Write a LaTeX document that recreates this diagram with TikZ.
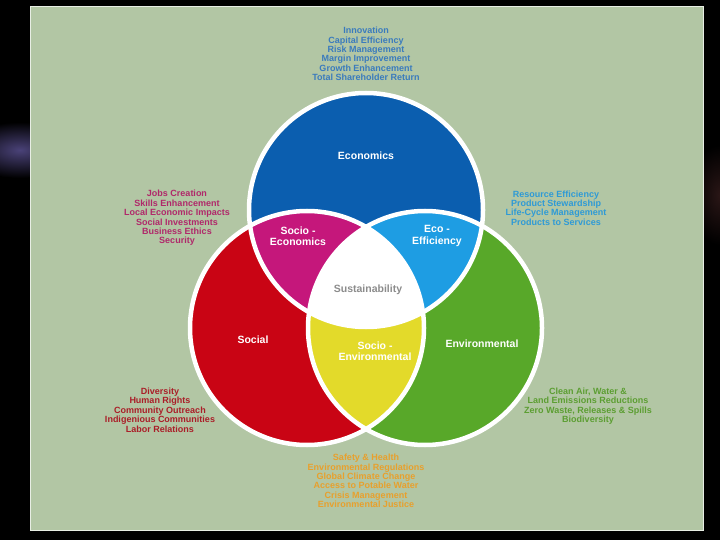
\documentclass[tikz,border=0pt]{standalone}
\usepackage{fontspec}
\setmainfont{Liberation Sans}
\definecolor{panelgreen}{HTML}{B2C6A4}
\definecolor{ecoblue}{HTML}{0B5EAF}
\definecolor{socred}{HTML}{C90414}
\definecolor{envgreen}{HTML}{58A829}
\definecolor{mixmagenta}{HTML}{C5177B}
\definecolor{mixsky}{HTML}{1E9DE3}
\definecolor{mixyellow}{HTML}{E3DA2A}
\definecolor{susgray}{HTML}{8C8C8C}
\definecolor{txtblue}{HTML}{3A7BBD}
\definecolor{txtmagenta}{HTML}{B0286A}
\definecolor{txtsky}{HTML}{2E9AD6}
\definecolor{txtred}{HTML}{AA1E28}
\definecolor{txtgreen}{HTML}{5C9E32}
\definecolor{txtorange}{HTML}{E8A02C}
\definecolor{glowleft}{HTML}{4A4278}
\definecolor{glowright}{HTML}{2A1616}
\usetikzlibrary{positioning}
\tikzset{
	listtext/.style={font=\fontsize{9}{9.4}\selectfont\bfseries, align=center, inner sep=0pt}
}
\tikzset{
	regiontext/.style={font=\fontsize{10.5}{11.5}\selectfont\bfseries, align=center, text=white, inner sep=0pt}
}
\tikzset{
	ring/.style={draw=white, line width=4.5}
}

\begin{document}
\begin{tikzpicture}[x=1pt,y=-1pt]

	\useasboundingbox (0,0) rectangle (720,540);
	\fill[black] (0,0) rectangle (720,540);

	% glow at the sides
	\begin{scope}
		\clip (0,0) rectangle (30,540);
		\shade[inner color=glowleft, outer color=black] (20,150) ellipse (60 and 28);
	\end{scope}
	\begin{scope}
		\clip (704,0) rectangle (720,540);
		\shade[inner color=glowright, outer color=black] (720,195) ellipse (30 and 50);
	\end{scope}

	\filldraw[fill=panelgreen, draw=white!70!panelgreen, line width=1] (30,7) rectangle (703,530);

	\coordinate (cEco) at (366,210);
	\coordinate (cSoc) at (307,328);
	\coordinate (cEnv) at (425,328);
	\def\rr{117}

	\fill[socred] (cSoc) circle[radius=\rr];
	\fill[envgreen] (cEnv) circle[radius=\rr];
	\begin{scope}
		\clip (cSoc) circle[radius=\rr];
		\fill[mixyellow] (cEnv) circle[radius=\rr];
	\end{scope}
	\fill[ecoblue] (cEco) circle[radius=\rr];
	\begin{scope}
		\clip (cEco) circle[radius=\rr];
		\fill[mixmagenta] (cSoc) circle[radius=\rr];
		\fill[mixsky] (cEnv) circle[radius=\rr];
		\clip (cSoc) circle[radius=\rr];
		\fill[white] (cEnv) circle[radius=\rr];
	\end{scope}

	\draw[ring] (cEco) circle[radius=\rr];
	\draw[ring] (cSoc) circle[radius=\rr];
	\draw[ring] (cEnv) circle[radius=\rr];

	\node[regiontext] (economics) at (366,156) {Economics};
	\node[regiontext] (social) at (253,340) {Social};
	\node[regiontext] (environmental) at (482,344) {Environmental};
	\node[regiontext] (socioeco) at (298,236) {Socio -\\Economics};
	\node[regiontext] (ecoeff) at (437,236) {Eco -\\Efficiency};
	\node[regiontext] (socioenv) at (375,351) {Socio -\\Environmental};
	\node[regiontext, text=susgray] (sustain) at (368,290) {Sustainability};

	\node[listtext, text=txtblue] (ecolist) at (366,54) {Innovation\\Capital Efficiency\\Risk Management\\Margin Improvement\\Growth Enhancement\\Total Shareholder Return};
	\node[listtext, text=txtmagenta] (sociecolist) at (177,218) {Jobs Creation\\Skills Enhancement\\Local Economic Impacts\\Social Investments\\Business Ethics\\Security};
	\node[listtext, text=txtsky] (efflist) at (556,208) {Resource Efficiency\\Product Stewardship\\Life-Cycle Management\\Products to Services};
	\node[listtext, text=txtred] (soclist) at (160,410) {Diversity\\Human Rights\\Community Outreach\\Indigenious Communities\\Labor Relations};
	\node[listtext, text=txtgreen] (envlist) at (588,406) {Clean Air, Water \&\\Land Emissions Reductions\\Zero Waste, Releases \& Spills\\Biodiversity};
	\node[listtext, text=txtorange] (socenvlist) at (366,481) {Safety \& Health\\Environmental Regulations\\Global Climate Change\\Access to Potable Water\\Crisis Management\\Environmental Justice};

\end{tikzpicture}
\end{document}
